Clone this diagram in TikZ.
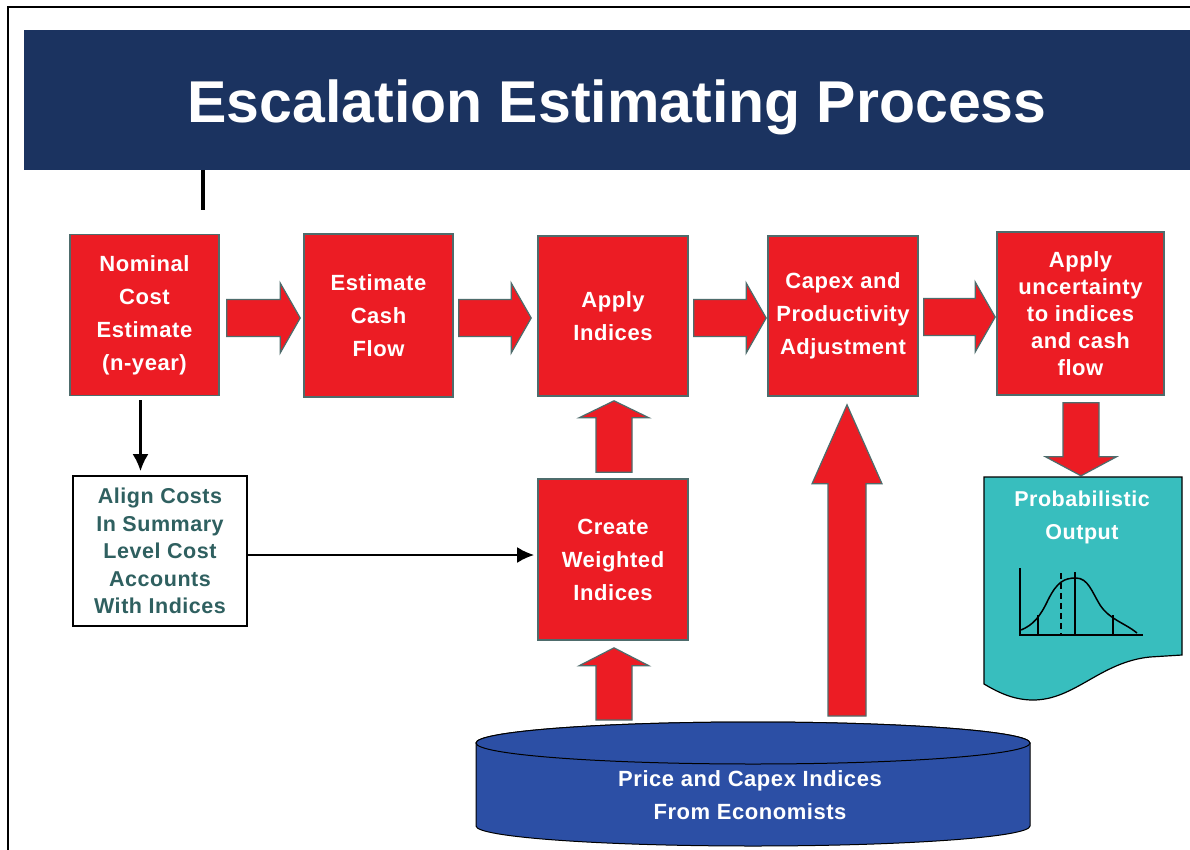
\documentclass[tikz,border=0pt]{standalone}
\usepackage{fontspec}
\setmainfont{Liberation Sans}
\newfontfamily\boxfont[LetterSpace=2.5]{Liberation Sans}
\usetikzlibrary{calc,arrows.meta}

\definecolor{procred}{HTML}{EC1C24}
\definecolor{boxedge}{HTML}{4E6C6C}
\definecolor{titlenavy}{HTML}{1B3360}
\definecolor{dbblue}{HTML}{2C4FA5}
\definecolor{outteal}{HTML}{38BEBE}
\definecolor{aligntext}{HTML}{2F6060}

\tikzset{
  procbox/.style={draw=boxedge, line width=1.6pt, fill=procred, text=white,
    font=\boxfont\bfseries\fontsize{22}{33}\selectfont, align=center, inner sep=0pt},
  blockarr/.style={draw=boxedge, line width=1.2pt, fill=procred},
  thinarrow/.style={line width=2.6pt, -{Latex[length=17pt,width=16pt]}, shorten >=4pt},
  whitetext/.style={text=white, font=\boxfont\bfseries\fontsize{22}{33}\selectfont, align=center, inner sep=0pt},
}

% block arrow pointing right: tail point, tip point
\newcommand{\blkright}[2]{%
  \path[blockarr] let \p1=(#1), \p2=(#2) in
    (\x1,\y1+18.5pt) -- (\x2-20pt,\y1+18.5pt) -- (\x2-20pt,\y1+35pt) -- (\x2,\y1)
    -- (\x2-20pt,\y1-35pt) -- (\x2-20pt,\y1-18.5pt) -- (\x1,\y1-18.5pt) -- cycle;}
% block arrow pointing up: tail, tip, shaft half width, head half width, head length
\newcommand{\blkup}[5]{%
  \path[blockarr] let \p1=(#1), \p2=(#2) in
    (\x1-#3pt,\y1) -- (\x1-#3pt,\y2-#5pt) -- (\x1-#4pt,\y2-#5pt) -- (\x1,\y2)
    -- (\x1+#4pt,\y2-#5pt) -- (\x1+#3pt,\y2-#5pt) -- (\x1+#3pt,\y1) -- cycle;}
% block arrow pointing down: tail, tip, shaft half width, head half width, head length
\newcommand{\blkdown}[5]{%
  \path[blockarr] let \p1=(#1), \p2=(#2) in
    (\x1-#3pt,\y1) -- (\x1-#3pt,\y2+#5pt) -- (\x1-#4pt,\y2+#5pt) -- (\x1,\y2)
    -- (\x1+#4pt,\y2+#5pt) -- (\x1+#3pt,\y2+#5pt) -- (\x1+#3pt,\y1) -- cycle;}

\begin{document}
\begin{tikzpicture}[x=1pt, y=-1pt]
\useasboundingbox (0,0) rectangle (1190,850);
\fill[white] (0,0) rectangle (1190,850);

% page frame
\draw[line width=2.5pt] (8,850) -- (8,7) -- (1190,7);

% title banner
\fill[titlenavy] (24,30) rectangle (1190,170);
\node[anchor=base, text=white, font=\bfseries\fontsize{59}{60}\selectfont, inner sep=0pt]
  (title) at (617,123) {Escalation Estimating Process};
\draw[line width=3.5pt] (203,170) -- (203,210);

% process boxes
\node[procbox, minimum width=149pt, minimum height=161pt] (nom) at (144.5,315)
  {Nominal\\Cost\\Estimate\\(n-year)};
\node[procbox, minimum width=149pt, minimum height=163pt] (est) at (378.5,315.5)
  {Estimate\\Cash\\Flow};
\node[procbox, minimum width=150pt, minimum height=160pt] (app) at (613,316)
  {Apply\\Indices};
\node[procbox, minimum width=150pt, minimum height=160pt] (cap) at (843,316)
  {Capex and\\Productivity\\Adjustment};
\node[procbox, minimum width=167pt, minimum height=163pt,
  font=\boxfont\bfseries\fontsize{22}{27}\selectfont] (unc) at (1080.5,313.5)
  {Apply\\uncertainty\\to indices\\and cash\\flow};
\node[procbox, minimum width=150pt, minimum height=161pt] (cwi) at (613,559.5)
  {Create\\Weighted\\Indices};
\node[draw=black, line width=1.6pt, fill=white, text=aligntext, align=center, inner sep=0pt,
  font=\boxfont\bfseries\fontsize{21.5}{27.5}\selectfont, minimum width=174pt, minimum height=150pt]
  (aln) at (160,551) {Align Costs\\In Summary\\Level Cost\\Accounts\\With Indices};

% horizontal block arrows
\coordinate (a1t) at ($(nom.east)+(7,3)$);
\coordinate (a1h) at ($(a1t -| est.west)+(-3,0)$);
\blkright{a1t}{a1h}
\coordinate (a2t) at ($(est.east)+(5,2.5)$);
\coordinate (a2h) at ($(a2t -| app.west)+(-6,0)$);
\blkright{a2t}{a2h}
\coordinate (a3t) at ($(app.east)+(5,2)$);
\coordinate (a3h) at ($(a3t -| cap.west)+(-1,0)$);
\blkright{a3t}{a3h}
\coordinate (a4t) at ($(cap.east)+(5,1)$);
\coordinate (a4h) at ($(a4t -| unc.west)+(-1,0)$);
\blkright{a4t}{a4h}

% indices database
\coordinate (db) at (753,722);
\path[fill=dbblue, draw=black, line width=1pt]
  (476,743) -- (476,826) arc[start angle=180, end angle=360, x radius=277pt, y radius=20pt]
  -- (1030,743) arc[start angle=0, end angle=180, x radius=277pt, y radius=21pt] -- cycle;
\draw[fill=dbblue, line width=1pt] (753,743) ellipse [x radius=277pt, y radius=21pt];
\node[whitetext] (dbtext) at (750,795) {Price and Capex Indices\\From Economists};

% vertical block arrows
\coordinate (u1t) at ($(cwi.north)+(1,-6)$);
\coordinate (u1h) at ($(app.south)+(1,4)$);
\blkup{u1t}{u1h}{18}{35}{17}
\coordinate (u2t) at ($(db -| cwi.south)+(1,-2)$);
\coordinate (u2h) at ($(cwi.south)+(1,7)$);
\blkup{u2t}{u2h}{18}{35}{18}
\coordinate (u3t) at ($(db -| cap.south)+(4,-6)$);
\coordinate (u3h) at ($(cap.south)+(4,8)$);
\blkup{u3t}{u3h}{19}{35}{79}
\coordinate (d1t) at ($(unc.south)+(0.5,7)$);
\coordinate (d1h) at ($(unc.south)+(0.5,80)$);
\blkdown{d1t}{d1h}{18}{35.5}{19}

% thin black connectors
\coordinate (c1t) at ($(nom.south)+(-4,4)$);
\draw[thinarrow] (c1t) -- (c1t |- aln.north);
\coordinate (c2t) at ($(aln.east)+(0,4)$);
\draw[thinarrow, shorten >=3pt] (c2t) -- (c2t -| cwi.west);

% probabilistic output document
\path[fill=outteal, draw=black, line width=1.2pt]
  (984,477) -- (1182,477) -- (1182,655) -- (1150,657)
  .. controls (1100,662) and (1075,700) .. (1033,700)
  .. controls (1012,700) and (996,691) .. (984,684) -- cycle;
\node[whitetext, font=\boxfont\bfseries\fontsize{21.5}{33}\selectfont] (outtext) at (1082,517)
  {Probabilistic\\Output};

% distribution sketch
\draw[line width=1.5pt] (1020,568) -- (1020,635) -- (1143,635);
\draw[line width=1.5pt] (1021,630) .. controls (1033,625) and (1040,617) .. (1048,600)
  .. controls (1057,582) and (1064,578) .. (1076,578)
  .. controls (1088,578) and (1092,592) .. (1100,605)
  .. controls (1110,620) and (1125,623) .. (1137,633);
\draw[line width=1.5pt] (1038,615) -- (1038,635);
\draw[line width=1.5pt, dash pattern=on 6pt off 4pt] (1061,573) -- (1061,635);
\draw[line width=1.5pt] (1075,572) -- (1075,635);
\draw[line width=1.5pt] (1113,615) -- (1113,635);
\end{tikzpicture}
\end{document}
